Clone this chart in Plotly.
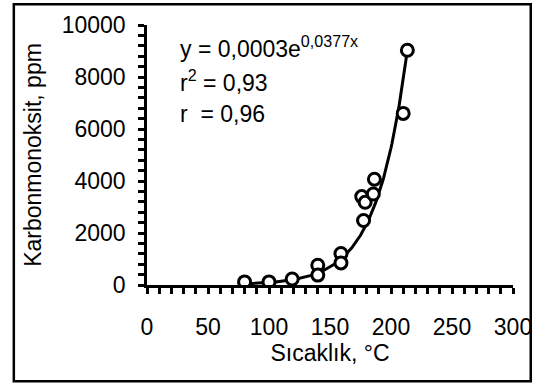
import numpy as np
import plotly.graph_objects as go

# Data
temp_c = [80, 100, 119, 140, 140, 159, 159, 176, 177.5, 178.8, 185.5, 186.4, 210, 213.4]
co_ppm = [120, 120, 230, 760, 380, 1210, 850, 3400, 2480, 3180, 3500, 4070, 6600, 9030]

# Exponential trendline coefficients (visual fit of drawn curve)
TREND_A = 1.6
TREND_B = 0.0405
trend_x_start, trend_x_end = 80, 213.5

x_ticks = [0, 50, 100, 150, 200, 250, 300]
y_ticks = [0, 2000, 4000, 6000, 8000, 10000]

eq_lines = ["y = 0,0003e<sup>0,0377x</sup>", "r<sup>2</sup> = 0,93", "r  = 0,96"]

FONT = "Liberation Sans, Arial, sans-serif"
FS = 23

tx = np.linspace(trend_x_start, trend_x_end, 200)
ty = TREND_A * np.exp(TREND_B * tx)

fig = go.Figure()
fig.add_trace(go.Scatter(x=tx, y=ty, mode="lines",
                         line=dict(color="black", width=3), showlegend=False))
fig.add_trace(go.Scatter(x=temp_c, y=co_ppm, mode="markers",
                         marker=dict(symbol="circle", size=12, color="white",
                                     line=dict(color="black", width=3)),
                         showlegend=False))

L, R, T, B = 147, 26, 23, 102
W, H = 544, 387
pw, ph = W - L - R, H - T - B

def px2paper_x(px):
    return (px - L) / pw

def py2paper_y(py):
    return (H - B - py) / ph

fig.update_layout(
    width=W, height=H,
    margin=dict(l=L, r=R, t=T, b=B),
    paper_bgcolor="white", plot_bgcolor="white",
    font=dict(family=FONT, size=FS, color="black"),
    xaxis=dict(range=[0, 300], tickvals=x_ticks, ticktext=[str(v) for v in x_ticks],
               showgrid=False, zeroline=False, showline=True, linecolor="black", linewidth=2.5,
               ticks="outside", ticklen=6, tickwidth=2.5, tickcolor="black",
               ticklabelstandoff=14,
               minor=dict(dtick=10, ticks="outside", ticklen=6, tickwidth=2.5, tickcolor="black", showgrid=False),
               title=dict(text="Sıcaklık, °C", font=dict(size=FS), standoff=4)),
    yaxis=dict(range=[0, 10000], tickvals=y_ticks, ticktext=[str(v) for v in y_ticks],
               showgrid=False, zeroline=False, showline=True, linecolor="black", linewidth=2.5,
               ticks="outside", ticklen=6, tickwidth=2.5, tickcolor="black",
               ticklabelstandoff=8,
               minor=dict(dtick=400, ticks="outside", ticklen=6, tickwidth=2.5, tickcolor="black", showgrid=False),
               title=dict(text="Karbonmonoksit, ppm", font=dict(size=FS), standoff=14)),
    shapes=[dict(type="rect", xref="paper", yref="paper",
                 x0=px2paper_x(12), x1=px2paper_x(536), y0=py2paper_y(382), y1=py2paper_y(2),
                 line=dict(color="black", width=2.5), fillcolor="rgba(0,0,0,0)", layer="above")],
)

for i, t in enumerate(eq_lines):
    fig.add_annotation(xref="paper", yref="paper", x=px2paper_x(178), y=py2paper_y(45 + 34 * i),
                       text=t, showarrow=False, xanchor="left", yanchor="middle",
                       font=dict(size=FS, family=FONT))

fig.write_html("out.html")
